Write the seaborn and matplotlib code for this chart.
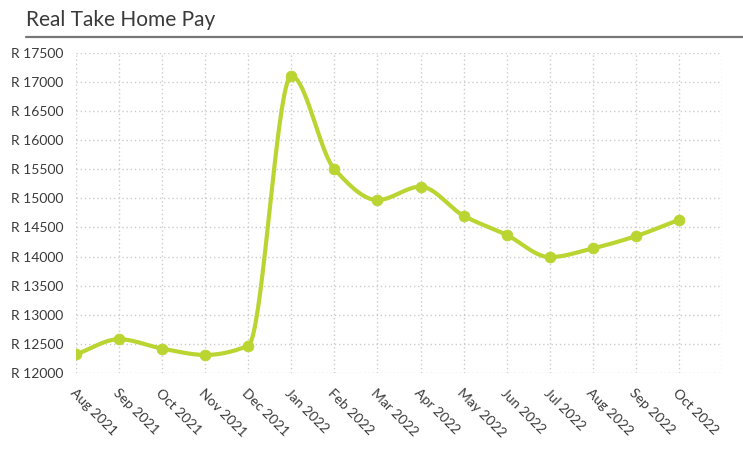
import numpy as np
import pandas as pd
import matplotlib
matplotlib.use("Agg")
import matplotlib.pyplot as plt
import seaborn as sns

# data
months = ["Aug 2021", "Sep 2021", "Oct 2021", "Nov 2021", "Dec 2021",
          "Jan 2022", "Feb 2022", "Mar 2022", "Apr 2022", "May 2022",
          "Jun 2022", "Jul 2022", "Aug 2022", "Sep 2022", "Oct 2022"]
pay = [12320, 12580, 12420, 12310, 12470,
       17100, 15500, 14970, 15200, 14700,
       14370, 13990, 14140, 14350, 14630]
y_ticks = list(range(12000, 18000, 500))

LINE = "#bad532"
TEXT = "#3a3a3a"


def monotone_curve(x, y, n=40):
    # Fritsch-Carlson monotone cubic, used only to draw a smooth line between points
    x = np.asarray(x, float)
    y = np.asarray(y, float)
    h = np.diff(x)
    d = np.diff(y) / h
    m = np.zeros_like(y)
    m[0], m[-1] = d[0], d[-1]
    for i in range(1, len(y) - 1):
        if d[i - 1] * d[i] <= 0:
            m[i] = 0.0
        else:
            w1 = 2 * h[i] + h[i - 1]
            w2 = h[i] + 2 * h[i - 1]
            m[i] = (w1 + w2) / (w1 / d[i - 1] + w2 / d[i])
    xs, ys = [], []
    for i in range(len(x) - 1):
        t = np.linspace(0, 1, n, endpoint=False)
        h00 = 2 * t**3 - 3 * t**2 + 1
        h10 = t**3 - 2 * t**2 + t
        h01 = -2 * t**3 + 3 * t**2
        h11 = t**3 - t**2
        xs.append(x[i] + t * h[i])
        ys.append(h00 * y[i] + h10 * h[i] * m[i] + h01 * y[i + 1] + h11 * h[i] * m[i + 1])
    xs.append([x[-1]])
    ys.append([y[-1]])
    return np.concatenate(xs), np.concatenate(ys)


df = pd.DataFrame({"month": months, "pay": pay})
df["pos"] = np.arange(len(df))
cx, cy = monotone_curve(df["pos"], df["pay"])
curve = pd.DataFrame({"pos": cx, "pay": cy})

sns.set_theme(style="white")
plt.rcParams["font.family"] = ["Lato", "DejaVu Sans"]

fig = plt.figure(figsize=(7.43, 4.58), dpi=100)
ax = fig.add_axes([76 / 743, 1 - 373 / 458, 646 / 743, (373 - 52.7) / 458])

sns.lineplot(data=curve, x="pos", y="pay", ax=ax, color=LINE, linewidth=3,
             sort=False, estimator=None, zorder=3)
sns.scatterplot(data=df, x="pos", y="pay", ax=ax, color=LINE, s=60,
                edgecolor=LINE, zorder=4)

ax.set_xlim(0, 15)
ax.set_ylim(12000, 17500)
ax.set_xticks(list(df["pos"]) + [15])
ax.set_xticklabels(months + [""])
ax.set_yticks(y_ticks, [f"R {v}" for v in y_ticks])
ax.grid(True, color="#cccccc", linestyle=(0, (1, 2)), linewidth=1)
for s in ax.spines.values():
    s.set_visible(False)
ax.tick_params(axis="both", length=0, labelcolor=TEXT, labelsize=10)
ax.tick_params(axis="y", pad=9)
ax.tick_params(axis="x", pad=10)
for lbl in ax.get_xticklabels():
    lbl.set_rotation(-45)
    lbl.set_ha("left")
    lbl.set_va("top")
    lbl.set_rotation_mode("anchor")
ax.set_xlabel("")
ax.set_ylabel("")

fig.text(26 / 743, 1 - 26 / 458, "Real Take Home Pay", fontsize=15,
         color=TEXT, ha="left", va="baseline")
fig.add_artist(plt.Line2D([26 / 743, 1.0], [1 - 36.5 / 458] * 2,
                          color="#777777", linewidth=1.6, transform=fig.transFigure))

fig.savefig("out.png", dpi=100)
